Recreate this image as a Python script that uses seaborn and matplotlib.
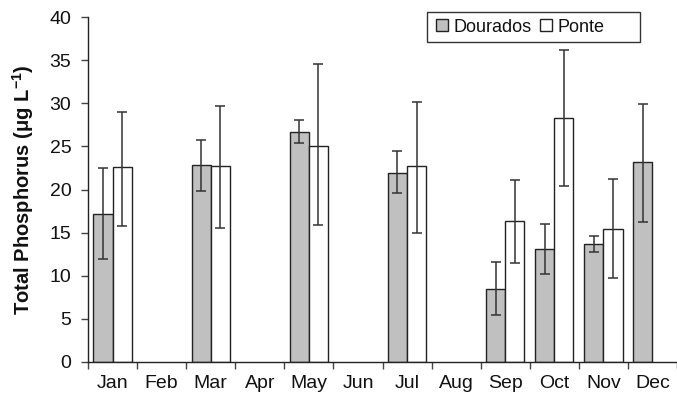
import numpy as np
import pandas as pd
import matplotlib
matplotlib.use("Agg")
import matplotlib.pyplot as plt
import seaborn as sns
from matplotlib.patches import Patch, Rectangle

months = ["Jan", "Feb", "Mar", "Apr", "May", "Jun", "Jul", "Aug", "Sep", "Oct", "Nov", "Dec"]
series = ["Dourados", "Ponte"]
nan = np.nan
dourados_mean = [17.2, nan, 22.8, nan, 26.7, nan, 21.9, nan, 8.5, 13.1, 13.7, 23.2]
dourados_low = [12.0, nan, 19.8, nan, 25.4, nan, 19.6, nan, 5.5, 10.2, 12.7, 16.2]
dourados_high = [22.5, nan, 25.7, nan, 28.1, nan, 24.5, nan, 11.6, 16.0, 14.6, 29.9]
ponte_mean = [22.6, nan, 22.7, nan, 25.1, nan, 22.7, nan, 16.3, 28.3, 15.4, nan]
ponte_low = [15.8, nan, 15.5, nan, 15.9, nan, 15.0, nan, 11.5, 20.4, 9.7, nan]
ponte_high = [29.0, nan, 29.7, nan, 34.5, nan, 30.1, nan, 21.1, 36.2, 21.2, nan]
yticks = [0, 5, 10, 15, 20, 25, 30, 35, 40]

df = pd.DataFrame({
    "month": months * 2,
    "series": ["Dourados"] * 12 + ["Ponte"] * 12,
    "value": dourados_mean + ponte_mean,
    "low": dourados_low + ponte_low,
    "high": dourados_high + ponte_high,
})
lookup = {(r.month, r.series): (r.value, r.low, r.high) for r in df.itertuples()}

sns.set_style("white")
plt.rcParams["font.family"] = ["Liberation Sans", "DejaVu Sans"]
plt.rcParams["mathtext.fontset"] = "custom"
plt.rcParams["mathtext.rm"] = "Liberation Sans"
plt.rcParams["mathtext.bf"] = "Liberation Sans:bold"

W, H = 677, 399
fig = plt.figure(figsize=(W / 100, H / 100), dpi=100)
ax = fig.add_axes([88 / W, 1 - 362 / H, (W - 88) / W, (362 - 17) / H])

colors = {"Dourados": "#c0c0c0", "Ponte": "#ffffff"}
sns.barplot(data=df.dropna(subset=["value"]), x="month", y="value", hue="series",
            order=months, hue_order=series, palette=colors, width=0.78,
            edgecolor="#222222", linewidth=1.0, errorbar=None, ax=ax, legend=False)

for container, s in zip(ax.containers, series):
    for bar in container:
        h = bar.get_height()
        if not np.isfinite(h):
            continue
        xc = bar.get_x() + bar.get_width() / 2
        m = months[int(round(xc))]
        v, lo, hi = lookup[(m, s)]
        ax.errorbar([xc], [v], yerr=[[v - lo], [hi - v]], fmt="none",
                    ecolor="#333333", elinewidth=1.1, capsize=3.3, capthick=1.1)

ax.set_xlim(-0.5, 11.5)
ax.set_ylim(0, 40)
ax.set_yticks(yticks)
ax.set_yticklabels([str(t) for t in yticks], fontsize=14)
ax.set_xticks(range(12))
ax.set_xticklabels(months, fontsize=14)
ax.set_xticks(np.arange(-0.5, 12, 1), minor=True)
ax.tick_params(axis="x", which="major", length=0, pad=9)
ax.tick_params(axis="x", which="minor", length=5, width=1, color="#444444", direction="out", bottom=True)
ax.tick_params(axis="y", length=5, width=1, color="#444444", direction="out", left=True, pad=7)
ax.tick_params(labelcolor="#111111")
ax.set_xlabel("")
ax.set_ylabel(r"Total Phosphorus ($\mathbf{\mu}$g L$^{\mathbf{-1}}$)", fontsize=14.5,
              fontweight="bold", labelpad=10, color="#111111")

for side in ["top", "right"]:
    ax.spines[side].set_visible(False)
for side in ["left", "bottom"]:
    ax.spines[side].set_color("#222222")
    ax.spines[side].set_linewidth(1.0)

handles = [Patch(facecolor=colors[s], edgecolor="#222222", linewidth=1.0) for s in series]
leg = ax.legend(handles, series, ncol=2, loc="center left",
                bbox_to_anchor=(436 / W, 1 - 27 / H), bbox_transform=fig.transFigure,
                fontsize=13, frameon=False, handlelength=0.65, handleheight=0.65,
                handletextpad=0.3, columnspacing=0.5, borderpad=0.0, borderaxespad=0)
for t in leg.get_texts():
    t.set_color("#111111")
fig.add_artist(Rectangle((427 / W, 1 - 42 / H), (640 - 427) / W, 30 / H,
                         transform=fig.transFigure, fill=False, edgecolor="#333333", linewidth=1.0))

fig.savefig("out.png", dpi=100)
